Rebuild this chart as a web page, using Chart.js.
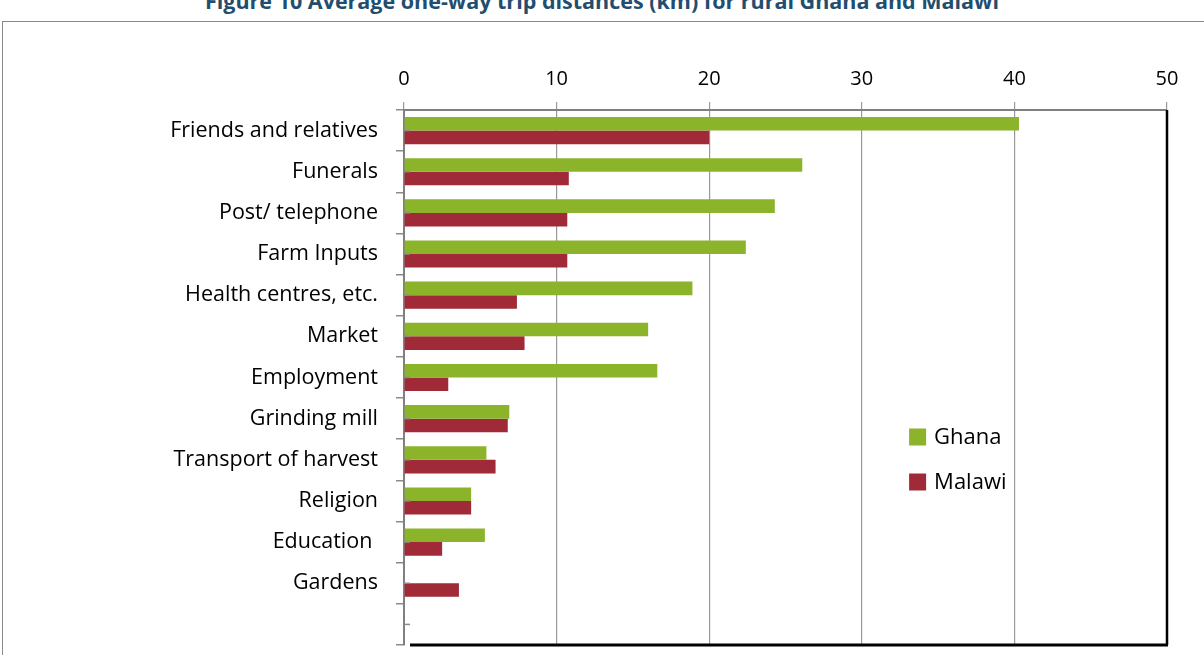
<!DOCTYPE html>
<html>
<head>
<meta charset="utf-8">
<script src="https://cdn.jsdelivr.net/npm/chart.js@4"></script>
<style>
  html, body { margin: 0; padding: 0; background: #fff; overflow: hidden; }
  #title {
    position: absolute; left: 0; width: 1204px; top: -14px;
    text-align: center; font: bold 21.5px "Open Sans", sans-serif; color: #1F4E6E;
  }
  #frame {
    position: absolute; left: 2px; top: 21px; width: 1220px; height: 660px;
    border-left: 1px solid #8a8a8a; border-top: 1px solid #8a8a8a;
  }
  #wrap { position: absolute; left: 0; top: 0; width: 1204px; height: 655px; }
</style>
</head>
<body>
<div id="title">Figure 10 Average one-way trip distances (km) for rural Ghana and Malawi</div>
<div id="frame"></div>
<div id="wrap"><canvas id="chart"></canvas></div>
<script>
  // trip purposes, top to bottom (last slot left blank)
  const categories = ['Friends and relatives', 'Funerals', 'Post/ telephone', 'Farm Inputs',
    'Health centres, etc.', 'Market', 'Employment', 'Grinding mill', 'Transport of harvest',
    'Religion', 'Education ', 'Gardens', ''];
  // average one-way distance, km
  const ghana  = [40.3, 26.1, 24.3, 22.4, 18.9, 16.0, 16.6, 6.9, 5.4, 4.4, 5.3, 0, null];
  const malawi = [20.0, 10.8, 10.7, 10.7, 7.4, 7.9, 2.9, 6.8, 6.0, 4.4, 2.5, 3.6, null];
  const xTicks = [0, 10, 20, 30, 40, 50];

  const FONT = '"Open Sans", sans-serif';

  // black right/bottom edges, small inner ticks and the in-plot legend
  const framePlugin = {
    id: 'framePlugin',
    afterDraw(chart) {
      const { ctx, chartArea: a, scales } = chart;
      ctx.save();
      ctx.strokeStyle = '#000';
      ctx.lineWidth = 3;
      ctx.beginPath();
      ctx.moveTo(a.left + 6, a.bottom);
      ctx.lineTo(a.right + 1, a.bottom);
      ctx.stroke();
      ctx.lineWidth = 2.5;
      ctx.beginPath();
      ctx.moveTo(a.right, a.top);
      ctx.lineTo(a.right, a.bottom);
      ctx.stroke();

      ctx.strokeStyle = '#8a8a8a';
      ctx.lineWidth = 1.5;
      categories.forEach((c, i) => {
        const y = scales.y.getPixelForValue(i);
        ctx.beginPath();
        ctx.moveTo(a.left, y);
        ctx.lineTo(a.left + 6, y);
        ctx.stroke();
      });

      const lx = scales.x.getPixelForValue(33.1);
      const ly = [437, 482];
      ctx.font = '22px ' + FONT;
      ctx.textBaseline = 'middle';
      chart.data.datasets.forEach((ds, i) => {
        ctx.fillStyle = ds.backgroundColor;
        ctx.fillRect(lx, ly[i] - 8.5, 17, 17);
        ctx.fillStyle = '#000';
        ctx.fillText(ds.label, lx + 25, ly[i] + 1);
      });
      ctx.restore();
    }
  };

  new Chart(document.getElementById('chart'), {
    type: 'bar',
    data: {
      labels: categories,
      datasets: [
        { label: 'Ghana', data: ghana, backgroundColor: '#8CB42B', borderWidth: 0 },
        { label: 'Malawi', data: malawi, backgroundColor: '#A12A38', borderWidth: 0 }
      ]
    },
    options: {
      indexAxis: 'y',
      responsive: true,
      maintainAspectRatio: false,
      animation: false,
      layout: { padding: { left: 0, top: 0, right: 37, bottom: 10 } },
      datasets: { bar: { categoryPercentage: 0.66, barPercentage: 1.0 } },
      plugins: { legend: { display: false }, tooltip: { enabled: false } },
      scales: {
        x: {
          position: 'top',
          min: 0, max: 50,
          afterFit: s => { s.height = 110; s.paddingLeft = 0; s.paddingRight = 0; },
          afterBuildTicks: s => { s.ticks = xTicks.map(v => ({ value: v })); },
          grid: { color: '#9a9a9a', lineWidth: 1.2, tickLength: 8, tickColor: '#9a9a9a' },
          border: { color: '#808080', width: 2 },
          ticks: { color: '#000', font: { family: FONT, size: 20 }, padding: 11 }
        },
        y: {
          afterFit: s => { s.width = 404; s.paddingTop = 0; s.paddingBottom = 0; },
          grid: { drawOnChartArea: false, tickLength: 8, tickColor: '#8a8a8a', lineWidth: 1.5 },
          border: { color: '#808080', width: 2 },
          ticks: { color: '#000', font: { family: FONT, size: 21.5 }, padding: 18, autoSkip: false }
        }
      }
    },
    plugins: [framePlugin]
  });
</script>
</body>
</html>
